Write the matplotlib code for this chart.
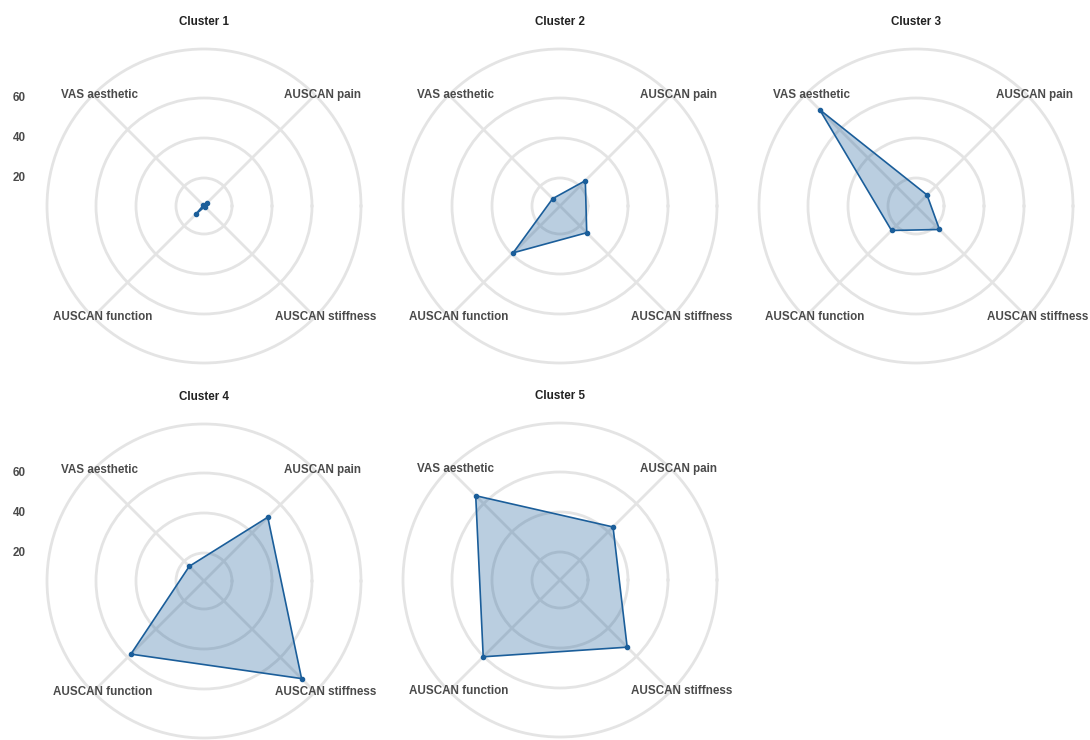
import numpy as np
import matplotlib.pyplot as plt

plt.rcParams['font.family'] = ['Liberation Sans', 'DejaVu Sans']

# ---- data ----
categories = ["VAS aesthetic", "AUSCAN pain", "AUSCAN stiffness", "AUSCAN function"]
angles_deg = [135, 45, 315, 225]
cluster_names = ["Cluster 1", "Cluster 2", "Cluster 3", "Cluster 4", "Cluster 5"]
cluster1 = [6.5, 8.0, 6.5, 11.5]
cluster2 = [11.2, 23.9, 24.9, 39.1]
cluster3 = [74.1, 13.8, 22.6, 23.3]
cluster4 = [16.4, 51.1, 75.0, 57.7]
cluster5 = [65.6, 43.5, 53.5, 60.3]
cluster_values = [cluster1, cluster2, cluster3, cluster4, cluster5]
r_ticks = [20, 40, 60]
r_tick_labels = ["20", "40", "60"]
r_min, r_max = 6, 84.5

# ---- style ----
W, H = 1090, 740
R = 157
centers = [(204, 206), (560, 206), (916, 206), (204, 581), (560, 580)]
label_offsets = [(-104.5, -111), (118, -111), (122, 111), (-101, 111)]
grid_color = "#e4e4e4"
line_color = "#1b5e9a"
label_color = "#4a4a4a"
fs = 8.4

fig = plt.figure(figsize=(W / 100, H / 100), dpi=100)

theta = np.deg2rad(angles_deg)
theta_closed = np.append(theta, theta[0])

for i, (name, vals) in enumerate(zip(cluster_names, cluster_values)):
    cx, cy = centers[i]
    ax = fig.add_axes([(cx - R) / W, (H - cy - R) / H, 2 * R / W, 2 * R / H],
                      projection='polar')
    ax.set_ylim(r_min, r_max)
    ax.set_xticks(theta)
    ax.set_xticklabels([])
    ax.set_yticks(r_ticks)
    ax.set_yticklabels([])
    ax.tick_params(length=0)
    ax.grid(True, color=grid_color, linewidth=2.0)
    ax.spines['polar'].set_color(grid_color)
    ax.spines['polar'].set_linewidth(2.0)
    ax.set_facecolor('none')

    v = np.append(vals, vals[0])
    ax.fill(theta_closed, v, color=line_color, alpha=0.3, zorder=2, linewidth=0)
    ax.plot(theta_closed, v, color=line_color, linewidth=1.2, zorder=3)
    ax.plot(theta, vals, 'o', color=line_color, markersize=3, zorder=4)

    # category labels
    for cat, (dx, dy) in zip(categories, label_offsets):
        ax.text(0.5 + dx / (2 * R), 0.5 - dy / (2 * R), cat, transform=ax.transAxes,
                ha='center', va='center', fontsize=fs, fontweight='bold',
                color=label_color, clip_on=False)

    # title
    ax.text(0.5, 0.5 + 184 / (2 * R), name, transform=ax.transAxes,
            ha='center', va='center', fontsize=fs, fontweight='bold',
            color='#222222', clip_on=False)

    # radial tick labels on the first column
    if i % 3 == 0:
        for rv, rl in zip(r_ticks, r_tick_labels):
            ya = 0.5 + 0.5 * (rv - r_min) / (r_max - r_min)
            ax.text(0.5 - 185 / (2 * R), ya, rl, transform=ax.transAxes,
                    ha='center', va='center', fontsize=fs, fontweight='bold',
                    color=label_color, clip_on=False)

fig.savefig("out.png", dpi=100)
